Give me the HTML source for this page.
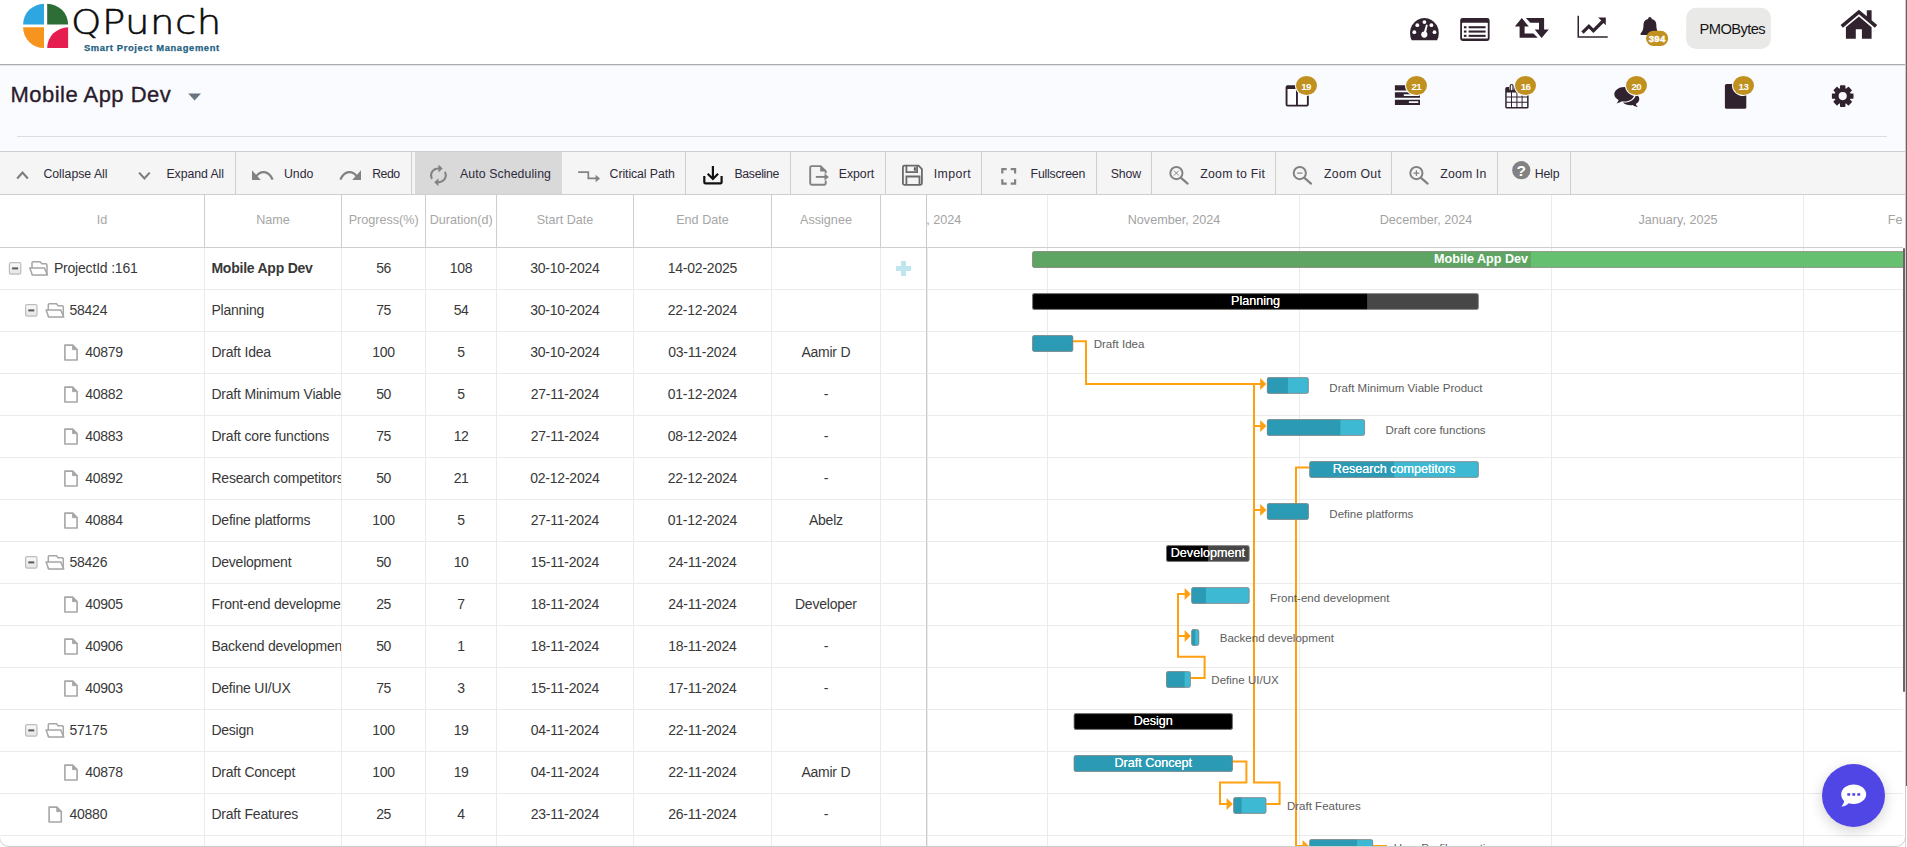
<!DOCTYPE html>
<html lang="en"><head><meta charset="utf-8"><title>QPunch - Mobile App Dev</title>
<style>
html,body{margin:0;padding:0;}
body{width:1907px;height:847px;overflow:hidden;position:relative;background:#fff;font-family:"Liberation Sans",sans-serif;}
.b{position:absolute;box-sizing:border-box;}
.t{position:absolute;white-space:nowrap;line-height:20px;height:20px;font-family:"Liberation Sans",sans-serif;}
svg{overflow:visible;}
</style></head><body>
<div class="b" style="left:0px;top:0px;width:1905px;height:64px;background:#fff;"></div>
<div class="b" style="left:0px;top:64px;width:1905px;height:1px;background:#ababad;"></div>
<div class="b" style="left:0px;top:65px;width:1905px;height:1px;background:#e6e6e9;"></div>
<div class="b" style="left:0px;top:66px;width:1905px;height:85px;background:#fafbfe;"></div>
<div class="b" style="left:17px;top:136px;width:1870px;height:1px;background:#dddee2;"></div>
<div class="b" style="left:0px;top:151px;width:1905px;height:44px;background:#f5f5f5;border-top:1px solid #cfcfcf;border-bottom:1px solid #cfcfcf;"></div>
<svg class="b" style="left:0px;top:0px;" width="240" height="64" viewBox="0 0 240 64">
<path d="M44 24.5 V3.8 A20.9 20.7 0 0 0 23.1 24.5 Z" fill="#2ea7e0"/>
<path d="M47.2 24.5 V3.8 A20.9 20.7 0 0 1 68.1 24.5 Z" fill="#2c6e36"/>
<path d="M44 27.3 V48 A20.9 20.7 0 0 1 23.1 27.3 Z" fill="#f7941d"/>
<path d="M68.1 48 H47.2 A20.9 20.7 0 0 1 68.1 27.3 Z" fill="#e51e4f"/>
</svg>
<span class="t" style="left:71.2px;top:3.1px;font-family:'DejaVu Sans Light','DejaVu Sans',sans-serif;font-weight:200;font-size:33.6px;line-height:40px;height:40px;color:#0b0b0b;letter-spacing:0.45px;transform:scaleX(1.15);transform-origin:0 0;-webkit-text-stroke:0.55px #0b0b0b;">QPunch</span>
<span class="t" style="left:83.90px;top:37.74px;font-size:9.4px;color:#1f6283;font-weight:700;letter-spacing:0.626px;-webkit-text-stroke:0.25px #1f6283;">Smart Project Management</span>
<svg class="b" style="left:0px;top:0px;" width="1907" height="64" viewBox="0 0 1907 64">
<g fill="#30232f">
<!-- tachometer -->
<path d="M1411.7 40.3 A14.4 15.16 0 1 1 1437.1 40.3 Z"/>
<g fill="#fff">
<circle cx="1414.3" cy="32.2" r="1.9"/><circle cx="1417.3" cy="25.2" r="1.9"/><circle cx="1424.4" cy="22.1" r="1.9"/><circle cx="1431.4" cy="25.2" r="1.9"/><circle cx="1434.5" cy="32.2" r="1.9"/>
<circle cx="1424.3" cy="34.6" r="3.1"/>
<path d="M1423.2 34.2 L1426.1 24.6 L1427.7 25.0 L1425.6 34.8 Z"/>
</g>
<!-- list-alt -->
<rect x="1460.2" y="18" width="29.4" height="22.9" rx="2.4"/>
<rect x="1462" y="22.7" width="25.8" height="15.8" rx="0.6" fill="#fff"/>
<rect x="1463.9" y="26.2" width="2.6" height="2.1"/><rect x="1468.6" y="26.2" width="17" height="2.1"/>
<rect x="1463.9" y="30.5" width="2.6" height="2.1"/><rect x="1468.6" y="30.5" width="17" height="2.1"/>
<rect x="1463.9" y="34.8" width="2.6" height="2.1"/><rect x="1468.6" y="34.8" width="17" height="2.1"/>
<!-- retweet -->
<path d="M1521.8 18 L1528.8 26.4 H1524.6 V33.4 H1533.4 L1537.8 37.8 H1519.6 V26.4 H1514.8 Z"/>
<path d="M1541.6 38 L1534.7 29.6 H1539 V22.7 H1530.3 L1525.9 18 H1544.1 V29.6 H1548.8 Z"/>
<!-- line chart -->
<path d="M1577.5 15.7 H1579 V36.2 H1607.7 V37.8 H1577.5 Z"/>
<path d="M1598.2 17.6 H1605.8 V25.2 L1603.5 22.9 L1593.4 33 L1588.9 28.5 L1583.6 33.8 L1581.3 31.5 L1588.9 23.9 L1593.4 28.4 L1601.2 20.6 Z"/>
<!-- bell -->
<path transform="translate(1649.9,0) scale(1.09,1) translate(-1649.2,0)" d="M1649.2 16.9 a1.6 1.6 0 0 1 1.6 1.6 v0.5 a5.9 5.9 0 0 1 4.3 5.7 c0 5 1.2 7.2 2.6 8.6 v1.6 h-17 v-1.6 c1.4 -1.4 2.6 -3.6 2.6 -8.6 a5.9 5.9 0 0 1 4.3 -5.7 v-0.5 a1.6 1.6 0 0 1 1.6 -1.6 z"/>
<!-- home -->
<path d="M1858.9 9.7 L1866.8 16.3 V10.2 H1871.6 V20.3 L1877.2 25 L1874.9 27.7 L1858.9 14.3 L1842.9 27.7 L1840.6 25 Z"/>
<path d="M1858.9 16.6 L1871.6 27.2 V38.8 H1861.9 V29.3 H1855.8 V38.8 H1845.9 V27.2 Z"/>
</g>
<!-- badge 394 -->
<rect x="1646" y="30.8" width="22.2" height="15.1" rx="7.5" fill="#c1911f"/>
<text x="1657.2" y="41.8" font-family="Liberation Sans,sans-serif" font-weight="700" font-size="9.5" letter-spacing="0.35" fill="#fff" stroke="#fff" stroke-width="0.35" text-anchor="middle">394</text>
<!-- user button -->
<rect x="1686.2" y="7.8" width="84.7" height="41.1" rx="10" fill="#e9e9e8"/>
</svg>
<span class="t" style="left:1699.60px;top:18.61px;font-size:14.7px;color:#151515;letter-spacing:-0.581px;">PMOBytes</span>
<span class="t" style="left:10.40px;top:84.68px;font-size:22px;color:#2a1b2d;letter-spacing:0.484px;-webkit-text-stroke:0.35px #2a1b2d;">Mobile App Dev</span>
<svg class="b" style="left:0px;top:64px;" width="1907" height="88" viewBox="0 0 1907 88">
<path d="M188.2 29.4 H201 L194.6 36.4 Z" fill="#6c757d"/>
<g fill="#30232f">
<!-- columns icon -->
<rect x="1286.5" y="22" width="21.5" height="20" fill="#fff"/>
<path fill-rule="evenodd" d="M1287.6 21.2 H1306.8 A2 2 0 0 1 1308.8 23.2 V40.6 A2 2 0 0 1 1306.8 42.6 H1287.6 A2 2 0 0 1 1285.6 40.6 V23.2 A2 2 0 0 1 1287.6 21.2 Z M1287.5 25 V40.7 H1296 V25 Z M1297.9 25 V40.7 H1306.9 V25 Z"/>
<!-- tasks icon -->
<path fill-rule="evenodd" d="M1394.900 21.200 H1420 V26.600 H1394.900 Z M1394.900 28.300 H1420 V33.800 H1394.900 Z M1403.800 30.200 V31.900 H1419.200 V30.200 Z M1394.900 35.800 H1420 V40.900 H1394.900 Z M1408.900 37.300 V39.100 H1418.300 V37.300 Z"/>
<!-- calendar icon -->
<path fill-rule="evenodd" d="M1506.900 23 H1526.900 A1.700 1.700 0 0 1 1528.600 24.700 V42.900 A1.700 1.700 0 0 1 1526.900 44.600 H1506.900 A1.700 1.700 0 0 1 1505.200 42.900 V24.700 A1.700 1.700 0 0 1 1506.900 23 Z M1506.7 28.6 V32.5 H1511.0 V28.6 Z M1512.0 28.6 V32.5 H1516.4 V28.6 Z M1517.4 28.6 V32.5 H1521.6 V28.6 Z M1522.6 28.6 V32.5 H1527.1 V28.6 Z M1506.7 33.5 V37.7 H1511.0 V33.5 Z M1512.0 33.5 V37.7 H1516.4 V33.5 Z M1517.4 33.5 V37.7 H1521.6 V33.5 Z M1522.6 33.5 V37.7 H1527.1 V33.5 Z M1506.7 38.7 V43.1 H1511.0 V38.7 Z M1512.0 38.7 V43.1 H1516.4 V38.7 Z M1517.4 38.7 V43.1 H1521.6 V38.7 Z M1522.6 38.7 V43.1 H1527.1 V38.7 Z"/>
<rect x="1509.100" y="19.500" width="4.800" height="7.400" rx="2.300" fill="#fafbfe"/>
<path fill-rule="evenodd" d="M1511.6 20 a2 2 0 0 1 2 2 v3.4 a2 2 0 0 1 -4 0 v-3.4 a2 2 0 0 1 2 -2 z m0 1.1 a0.8 0.8 0 0 0 -0.8 0.8 v3.5 a0.8 0.8 0 0 0 1.6 0 v-3.5 a0.8 0.8 0 0 0 -0.8 -0.8 z"/>
<!-- comments icon -->
<path d="M1624.3 23 c5.5 0 10 3.3 10 7.3 s-4.500 7.300 -10 7.300 c-0.900 0 -1.700 -0.100 -2.500 -0.250 c-1.400 1 -3.200 1.900 -5.500 2.100 c1.200 -1 2 -2.200 2.300 -3.500 c-2.600 -1.300 -4.300 -3.400 -4.300 -5.700 c0 -4 4.500 -7.300 10 -7.300 z"/>
<path transform="translate(-0.5,-1.1)" d="M1636.500 31 c2 1.200 3.300 3 3.300 5 c0 2.100 -1.400 3.900 -3.500 5.100 c0.300 1.100 1 2.100 2 3 c-2.100 -0.200 -3.800 -1 -5.100 -1.900 c-0.800 0.150 -1.600 0.250 -2.400 0.250 c-3 0 -5.600 -1.100 -7.300 -2.800 c0.500 0 0.700 0.050 1 0.050 c6.300 0 11.600 -3.700 12 -8.700 z"/>
<!-- file icon -->
<rect x="1724.900" y="19.900" width="21.400" height="24.900" rx="1.600"/>
<!-- gear -->
<g transform="translate(1842.7,32.1)">
<circle r="8.100"/>
<g id="gt"><rect x="-2.700" y="-10.800" width="5.400" height="21.600" rx="0.700"/></g>
<rect x="-2.700" y="-10.800" width="5.400" height="21.600" rx="0.700" transform="rotate(45)"/>
<rect x="-2.700" y="-10.800" width="5.400" height="21.600" rx="0.700" transform="rotate(90)"/>
<rect x="-2.700" y="-10.800" width="5.400" height="21.600" rx="0.700" transform="rotate(135)"/>
<circle r="4.050" fill="#fafbfe"/>
</g>
</g>
</svg>
<div class="b" style="left:1295.8px;top:75.9px;width:21px;height:19.4px;border-radius:50%;background:#c1911f;box-shadow:0 0 0 1px #fafbfe;"></div>
<span class="t" style="left:1301.20px;top:76.74px;font-size:9.7px;color:#fff;font-weight:700;letter-spacing:-0.567px;">19</span>
<div class="b" style="left:1406.1px;top:75.9px;width:21px;height:19.4px;border-radius:50%;background:#c1911f;box-shadow:0 0 0 1px #fafbfe;"></div>
<span class="t" style="left:1411.50px;top:76.74px;font-size:9.7px;color:#fff;font-weight:700;letter-spacing:-0.567px;">21</span>
<div class="b" style="left:1515.3px;top:75.9px;width:21px;height:19.4px;border-radius:50%;background:#c1911f;box-shadow:0 0 0 1px #fafbfe;"></div>
<span class="t" style="left:1520.70px;top:76.74px;font-size:9.7px;color:#fff;font-weight:700;letter-spacing:-0.567px;">16</span>
<div class="b" style="left:1626.1px;top:75.9px;width:21px;height:19.4px;border-radius:50%;background:#c1911f;box-shadow:0 0 0 1px #fafbfe;"></div>
<span class="t" style="left:1631.50px;top:76.74px;font-size:9.7px;color:#fff;font-weight:700;letter-spacing:-0.567px;">20</span>
<div class="b" style="left:1733.2px;top:75.9px;width:21px;height:19.4px;border-radius:50%;background:#c1911f;box-shadow:0 0 0 1px #fafbfe;"></div>
<span class="t" style="left:1738.60px;top:76.74px;font-size:9.7px;color:#fff;font-weight:700;letter-spacing:-0.567px;">13</span>
<div class="b" style="left:415px;top:152px;width:147px;height:42px;background:#d9d9d9;"></div>
<div class="b" style="left:235px;top:152px;width:1px;height:42px;background:#cfcfcf;"></div>
<div class="b" style="left:411px;top:152px;width:1px;height:42px;background:#cfcfcf;"></div>
<div class="b" style="left:685px;top:152px;width:1px;height:42px;background:#cfcfcf;"></div>
<div class="b" style="left:790px;top:152px;width:1px;height:42px;background:#cfcfcf;"></div>
<div class="b" style="left:885px;top:152px;width:1px;height:42px;background:#cfcfcf;"></div>
<div class="b" style="left:981px;top:152px;width:1px;height:42px;background:#cfcfcf;"></div>
<div class="b" style="left:1096px;top:152px;width:1px;height:42px;background:#cfcfcf;"></div>
<div class="b" style="left:1151px;top:152px;width:1px;height:42px;background:#cfcfcf;"></div>
<div class="b" style="left:1275px;top:152px;width:1px;height:42px;background:#cfcfcf;"></div>
<div class="b" style="left:1391px;top:152px;width:1px;height:42px;background:#cfcfcf;"></div>
<div class="b" style="left:1497px;top:152px;width:1px;height:42px;background:#cfcfcf;"></div>
<div class="b" style="left:1570px;top:152px;width:1px;height:42px;background:#cfcfcf;"></div>
<span class="t" style="left:43.40px;top:163.54px;font-size:12.3px;color:#2f2a3a;letter-spacing:-0.006px;">Collapse All</span>
<span class="t" style="left:166.40px;top:163.54px;font-size:12.3px;color:#2f2a3a;letter-spacing:-0.057px;">Expand All</span>
<span class="t" style="left:283.90px;top:163.54px;font-size:12.3px;color:#2f2a3a;letter-spacing:0.034px;">Undo</span>
<span class="t" style="left:372.20px;top:163.54px;font-size:12.3px;color:#2f2a3a;letter-spacing:-0.466px;">Redo</span>
<span class="t" style="left:459.90px;top:163.54px;font-size:12.3px;color:#2f2a3a;letter-spacing:0.107px;">Auto Scheduling</span>
<span class="t" style="left:609.60px;top:163.54px;font-size:12.3px;color:#2f2a3a;letter-spacing:-0.083px;">Critical Path</span>
<span class="t" style="left:734.50px;top:163.54px;font-size:12.3px;color:#2f2a3a;letter-spacing:-0.339px;">Baseline</span>
<span class="t" style="left:838.80px;top:163.54px;font-size:12.3px;color:#2f2a3a;letter-spacing:-0.049px;">Export</span>
<span class="t" style="left:933.70px;top:163.54px;font-size:12.3px;color:#2f2a3a;letter-spacing:0.446px;">Import</span>
<span class="t" style="left:1030.60px;top:163.54px;font-size:12.3px;color:#2f2a3a;letter-spacing:-0.229px;">Fullscreen</span>
<span class="t" style="left:1110.70px;top:163.54px;font-size:12.3px;color:#2f2a3a;letter-spacing:-0.104px;">Show</span>
<span class="t" style="left:1200.30px;top:163.54px;font-size:12.3px;color:#2f2a3a;letter-spacing:0.232px;">Zoom to Fit</span>
<span class="t" style="left:1324.00px;top:163.54px;font-size:12.3px;color:#2f2a3a;letter-spacing:0.318px;">Zoom Out</span>
<span class="t" style="left:1440.30px;top:163.54px;font-size:12.3px;color:#2f2a3a;letter-spacing:0.143px;">Zoom In</span>
<span class="t" style="left:1534.70px;top:163.54px;font-size:12.3px;color:#2f2a3a;letter-spacing:-0.159px;">Help</span>
<svg class="b" style="left:0px;top:152px;" width="1907" height="43" viewBox="0 0 1907 43">
<g fill="none" stroke="#7c7c7c" stroke-width="2.1">
<path d="M17.2 26.5 L22.5 20.6 L27.8 26.5"/>
<path d="M139.100 20.600 L144.400 26.500 L149.700 20.600"/>
</g>
<g fill="#828282">
<!-- undo -->
<path d="M252 18.300 V28 H260.800 Z"/>
<path d="M256.200 24.400 C260.500 18.300 268.500 18.300 272.600 27.600" fill="none" stroke="#828282" stroke-width="2.300"/>
<!-- redo -->
<path d="M361 18.300 V28 H352.200 Z"/>
<path d="M356.800 24.400 C352.500 18.300 344.500 18.300 340.400 27.600" fill="none" stroke="#828282" stroke-width="2.300"/>
<!-- autorenew -->
<g transform="translate(425.85,11.6) scale(1.05,0.98)">
<path d="M12 6v3l4-4-4-4v3c-4.420 0-8 3.580-8 8 0 1.570.460 3.030 1.240 4.260L6.700 14.800c-.450-.830-.700-1.790-.700-2.800 0-3.310 2.690-6 6-6zm6.760 1.740L17.300 9.200c.440.840.700 1.790.700 2.800 0 3.310-2.690 6-6 6v-3l-4 4 4 4v-3c4.420 0 8-3.580 8-8 0-1.570-.460-3.030-1.240-4.260z"/>
</g>
<!-- critical path -->
<path d="M578.200 20.100 H588.300 V26.400 H596 " fill="none" stroke="#828282" stroke-width="1.700"/>
<path d="M595.600 22.700 V30.200 L600 26.400 Z"/>
</g>
<!-- baseline (save_alt) -->
<g fill="none" stroke="#111" stroke-width="2.200">
<path d="M704.300 23.900 V30.200 A1.200 1.200 0 0 0 705.500 31.400 H720.400 A1.200 1.200 0 0 0 721.600 30.200 V23.900"/>
<path d="M712.900 14.100 V26.200 M707.700 21.800 L712.900 27 L718.100 21.800"/>
</g>
<!-- export -->
<g fill="none" stroke="#828282" stroke-width="1.900">
<path d="M825.700 21.600 V19.200 L820.600 14.100 H811.600 A1.400 1.400 0 0 0 810.200 15.500 V31.300 A1.400 1.400 0 0 0 811.600 32.700 H824.300 A1.400 1.400 0 0 0 825.700 31.300 V28.400"/>
<path d="M815.800 24.900 H825"/>
</g>
<path d="M820.200 13.800 V19.400 H825.900 Z" fill="#828282"/>
<path d="M824.500 21.400 V28.400 L828.900 24.900 Z" fill="#828282"/>
<!-- import (floppy) -->
<g fill="none" stroke="#6a6a6a" stroke-width="1.800">
<path d="M904.400 13.700 H918.600 L921.900 17 V31.300 A1.500 1.500 0 0 1 920.400 32.800 H904.400 A1.500 1.500 0 0 1 902.900 31.300 V15.200 A1.500 1.500 0 0 1 904.400 13.700 Z"/>
<path d="M906.400 13.700 V20.100 H917.100 V13.700"/>
<path d="M906.400 32.800 V24.500 H919.500 V32.800"/>
</g>
<rect x="913.900" y="15.300" width="1.900" height="3.400" fill="#555"/>
<!-- fullscreen -->
<g fill="none" stroke="#828282" stroke-width="2.200">
<path d="M1002.300 21.600 V17.200 H1006.700 M1010.700 17.200 H1015.100 V21.600 M1015.100 27.300 V31.700 H1010.700 M1006.700 31.700 H1002.300 V27.300"/>
</g>
<g fill="none" stroke="#828282" stroke-width="2"><circle cx="1176.4" cy="21.1" r="6.1"/><path d="M1181.0 25.9 L1187.6000000000001 31.6" stroke-width="2.2" stroke-linecap="round"/></g><g stroke="#828282" stroke-width="1" fill="none"><path d="M1174 18.700 L1178.800 23.500 M1178.800 18.700 L1174 23.500"/></g>
<g fill="none" stroke="#828282" stroke-width="2"><circle cx="1299.8" cy="21.1" r="6.1"/><path d="M1304.3999999999999 25.9 L1311.0 31.6" stroke-width="2.2" stroke-linecap="round"/></g><g stroke="#828282" stroke-width="1" fill="none"><path d="M1297.100 21.100 H1302.500" stroke-width="1.200"/></g>
<g fill="none" stroke="#828282" stroke-width="2"><circle cx="1416.4" cy="21.1" r="6.1"/><path d="M1421.0 25.9 L1427.6000000000001 31.6" stroke-width="2.2" stroke-linecap="round"/></g><g stroke="#828282" stroke-width="1" fill="none"><path d="M1413.500 21.100 H1419.300 M1416.400 18.200 V24" stroke-width="1.200"/></g>
<circle cx="1521.300" cy="18.200" r="9.100" fill="#828282"/>
<text x="1521.300" y="23.600" font-family="Liberation Sans,sans-serif" font-weight="700" font-size="15.500" fill="#fff" text-anchor="middle">?</text>
</svg>
<div class="b" style="left:0px;top:247px;width:1903px;height:1px;background:#cecece;"></div>
<div class="b" style="left:204px;top:195px;width:1px;height:52px;background:#cecece;"></div>
<div class="b" style="left:204px;top:248px;width:1px;height:599px;background:#ebebeb;"></div>
<div class="b" style="left:341px;top:195px;width:1px;height:52px;background:#cecece;"></div>
<div class="b" style="left:341px;top:248px;width:1px;height:599px;background:#ebebeb;"></div>
<div class="b" style="left:425px;top:195px;width:1px;height:52px;background:#cecece;"></div>
<div class="b" style="left:425px;top:248px;width:1px;height:599px;background:#ebebeb;"></div>
<div class="b" style="left:496px;top:195px;width:1px;height:52px;background:#cecece;"></div>
<div class="b" style="left:496px;top:248px;width:1px;height:599px;background:#ebebeb;"></div>
<div class="b" style="left:633px;top:195px;width:1px;height:52px;background:#cecece;"></div>
<div class="b" style="left:633px;top:248px;width:1px;height:599px;background:#ebebeb;"></div>
<div class="b" style="left:771px;top:195px;width:1px;height:52px;background:#cecece;"></div>
<div class="b" style="left:771px;top:248px;width:1px;height:599px;background:#ebebeb;"></div>
<div class="b" style="left:880px;top:195px;width:1px;height:52px;background:#cecece;"></div>
<div class="b" style="left:880px;top:248px;width:1px;height:599px;background:#ebebeb;"></div>
<div class="b" style="left:926px;top:195px;width:1px;height:652px;background:#c9c9c9;"></div>
<div class="b" style="left:927px;top:248px;width:1px;height:599px;background:#ededed;"></div>
<span class="t" style="left:96.74px;top:210.03px;font-size:12.6px;color:#a6a6a6;">Id</span>
<span class="t" style="left:256.18px;top:210.03px;font-size:12.6px;color:#a6a6a6;">Name</span>
<span class="t" style="left:348.70px;top:210.03px;font-size:12.6px;color:#a6a6a6;">Progress(%)</span>
<span class="t" style="left:429.70px;top:210.03px;font-size:12.6px;color:#a6a6a6;">Duration(d)</span>
<span class="t" style="left:536.65px;top:210.03px;font-size:12.6px;color:#a6a6a6;">Start Date</span>
<span class="t" style="left:676.23px;top:210.03px;font-size:12.6px;color:#a6a6a6;">End Date</span>
<span class="t" style="left:800.08px;top:210.03px;font-size:12.6px;color:#a6a6a6;">Assignee</span>
<div class="b" style="left:0px;top:289px;width:926px;height:1px;background:#ebebeb;"></div>
<span class="t" style="left:53.90px;top:258.45px;font-size:14.0px;color:#383838;letter-spacing:-0.190px;">ProjectId :161</span>
<div class="b" style="left:205px;top:248px;width:136px;height:41px;overflow:hidden;">
<span class="t" style="left:6.40px;top:10.45px;font-size:14.0px;color:#383838;font-weight:700;letter-spacing:-0.230px;">Mobile App Dev</span>
</div>
<span class="t" style="left:376.15px;top:258.45px;font-size:14.0px;color:#383838;letter-spacing:-0.444px;">56</span>
<span class="t" style="left:449.84px;top:258.45px;font-size:14.0px;color:#383838;letter-spacing:-0.334px;">108</span>
<span class="t" style="left:530.22px;top:258.45px;font-size:14.0px;color:#383838;letter-spacing:-0.227px;">30-10-2024</span>
<span class="t" style="left:667.72px;top:258.45px;font-size:14.0px;color:#383838;letter-spacing:-0.227px;">14-02-2025</span>
<div class="b" style="left:0px;top:331px;width:926px;height:1px;background:#ebebeb;"></div>
<span class="t" style="left:69.60px;top:300.45px;font-size:14.0px;color:#383838;letter-spacing:-0.278px;">58424</span>
<div class="b" style="left:205px;top:290px;width:136px;height:41px;overflow:hidden;">
<span class="t" style="left:6.40px;top:10.45px;font-size:14.0px;color:#383838;letter-spacing:-0.222px;">Planning</span>
</div>
<span class="t" style="left:376.15px;top:300.45px;font-size:14.0px;color:#383838;letter-spacing:-0.444px;">75</span>
<span class="t" style="left:453.65px;top:300.45px;font-size:14.0px;color:#383838;letter-spacing:-0.444px;">54</span>
<span class="t" style="left:530.22px;top:300.45px;font-size:14.0px;color:#383838;letter-spacing:-0.227px;">30-10-2024</span>
<span class="t" style="left:667.72px;top:300.45px;font-size:14.0px;color:#383838;letter-spacing:-0.227px;">22-12-2024</span>
<div class="b" style="left:0px;top:373px;width:926px;height:1px;background:#ebebeb;"></div>
<span class="t" style="left:85.20px;top:342.45px;font-size:14.0px;color:#383838;letter-spacing:-0.278px;">40879</span>
<div class="b" style="left:205px;top:332px;width:136px;height:41px;overflow:hidden;">
<span class="t" style="left:6.40px;top:10.45px;font-size:14.0px;color:#383838;letter-spacing:-0.195px;">Draft Idea</span>
</div>
<span class="t" style="left:372.34px;top:342.45px;font-size:14.0px;color:#383838;letter-spacing:-0.334px;">100</span>
<span class="t" style="left:457.31px;top:342.45px;font-size:14.0px;color:#383838;">5</span>
<span class="t" style="left:530.22px;top:342.45px;font-size:14.0px;color:#383838;letter-spacing:-0.227px;">30-10-2024</span>
<span class="t" style="left:668.23px;top:342.45px;font-size:14.0px;color:#383838;letter-spacing:-0.224px;">03-11-2024</span>
<span class="t" style="left:801.45px;top:342.45px;font-size:14.0px;color:#383838;letter-spacing:-0.241px;">Aamir D</span>
<div class="b" style="left:0px;top:415px;width:926px;height:1px;background:#ebebeb;"></div>
<span class="t" style="left:85.20px;top:384.45px;font-size:14.0px;color:#383838;letter-spacing:-0.278px;">40882</span>
<div class="b" style="left:205px;top:374px;width:136px;height:41px;overflow:hidden;">
<span class="t" style="left:6.40px;top:10.45px;font-size:14.0px;color:#383838;letter-spacing:-0.197px;">Draft Minimum Viable Product</span>
</div>
<span class="t" style="left:376.15px;top:384.45px;font-size:14.0px;color:#383838;letter-spacing:-0.444px;">50</span>
<span class="t" style="left:457.31px;top:384.45px;font-size:14.0px;color:#383838;">5</span>
<span class="t" style="left:530.73px;top:384.45px;font-size:14.0px;color:#383838;letter-spacing:-0.224px;">27-11-2024</span>
<span class="t" style="left:667.72px;top:384.45px;font-size:14.0px;color:#383838;letter-spacing:-0.227px;">01-12-2024</span>
<span class="t" style="left:823.65px;top:384.45px;font-size:14.0px;color:#383838;">-</span>
<div class="b" style="left:0px;top:457px;width:926px;height:1px;background:#ebebeb;"></div>
<span class="t" style="left:85.20px;top:426.45px;font-size:14.0px;color:#383838;letter-spacing:-0.278px;">40883</span>
<div class="b" style="left:205px;top:416px;width:136px;height:41px;overflow:hidden;">
<span class="t" style="left:6.40px;top:10.45px;font-size:14.0px;color:#383838;letter-spacing:-0.183px;">Draft core functions</span>
</div>
<span class="t" style="left:376.15px;top:426.45px;font-size:14.0px;color:#383838;letter-spacing:-0.444px;">75</span>
<span class="t" style="left:453.65px;top:426.45px;font-size:14.0px;color:#383838;letter-spacing:-0.444px;">12</span>
<span class="t" style="left:530.73px;top:426.45px;font-size:14.0px;color:#383838;letter-spacing:-0.224px;">27-11-2024</span>
<span class="t" style="left:667.72px;top:426.45px;font-size:14.0px;color:#383838;letter-spacing:-0.227px;">08-12-2024</span>
<span class="t" style="left:823.65px;top:426.45px;font-size:14.0px;color:#383838;">-</span>
<div class="b" style="left:0px;top:499px;width:926px;height:1px;background:#ebebeb;"></div>
<span class="t" style="left:85.20px;top:468.45px;font-size:14.0px;color:#383838;letter-spacing:-0.278px;">40892</span>
<div class="b" style="left:205px;top:458px;width:136px;height:41px;overflow:hidden;">
<span class="t" style="left:6.40px;top:10.45px;font-size:14.0px;color:#383838;letter-spacing:-0.205px;">Research competitors</span>
</div>
<span class="t" style="left:376.15px;top:468.45px;font-size:14.0px;color:#383838;letter-spacing:-0.444px;">50</span>
<span class="t" style="left:453.65px;top:468.45px;font-size:14.0px;color:#383838;letter-spacing:-0.444px;">21</span>
<span class="t" style="left:530.22px;top:468.45px;font-size:14.0px;color:#383838;letter-spacing:-0.227px;">02-12-2024</span>
<span class="t" style="left:667.72px;top:468.45px;font-size:14.0px;color:#383838;letter-spacing:-0.227px;">22-12-2024</span>
<span class="t" style="left:823.65px;top:468.45px;font-size:14.0px;color:#383838;">-</span>
<div class="b" style="left:0px;top:541px;width:926px;height:1px;background:#ebebeb;"></div>
<span class="t" style="left:85.20px;top:510.45px;font-size:14.0px;color:#383838;letter-spacing:-0.278px;">40884</span>
<div class="b" style="left:205px;top:500px;width:136px;height:41px;overflow:hidden;">
<span class="t" style="left:6.40px;top:10.45px;font-size:14.0px;color:#383838;letter-spacing:-0.194px;">Define platforms</span>
</div>
<span class="t" style="left:372.34px;top:510.45px;font-size:14.0px;color:#383838;letter-spacing:-0.334px;">100</span>
<span class="t" style="left:457.31px;top:510.45px;font-size:14.0px;color:#383838;">5</span>
<span class="t" style="left:530.73px;top:510.45px;font-size:14.0px;color:#383838;letter-spacing:-0.224px;">27-11-2024</span>
<span class="t" style="left:667.72px;top:510.45px;font-size:14.0px;color:#383838;letter-spacing:-0.227px;">01-12-2024</span>
<span class="t" style="left:809.00px;top:510.45px;font-size:14.0px;color:#383838;letter-spacing:-0.250px;">Abelz</span>
<div class="b" style="left:0px;top:583px;width:926px;height:1px;background:#ebebeb;"></div>
<span class="t" style="left:69.60px;top:552.45px;font-size:14.0px;color:#383838;letter-spacing:-0.278px;">58426</span>
<div class="b" style="left:205px;top:542px;width:136px;height:41px;overflow:hidden;">
<span class="t" style="left:6.40px;top:10.45px;font-size:14.0px;color:#383838;letter-spacing:-0.236px;">Development</span>
</div>
<span class="t" style="left:376.15px;top:552.45px;font-size:14.0px;color:#383838;letter-spacing:-0.444px;">50</span>
<span class="t" style="left:453.65px;top:552.45px;font-size:14.0px;color:#383838;letter-spacing:-0.444px;">10</span>
<span class="t" style="left:530.73px;top:552.45px;font-size:14.0px;color:#383838;letter-spacing:-0.224px;">15-11-2024</span>
<span class="t" style="left:668.23px;top:552.45px;font-size:14.0px;color:#383838;letter-spacing:-0.224px;">24-11-2024</span>
<div class="b" style="left:0px;top:625px;width:926px;height:1px;background:#ebebeb;"></div>
<span class="t" style="left:85.20px;top:594.45px;font-size:14.0px;color:#383838;letter-spacing:-0.278px;">40905</span>
<div class="b" style="left:205px;top:584px;width:136px;height:41px;overflow:hidden;">
<span class="t" style="left:6.40px;top:10.45px;font-size:14.0px;color:#383838;letter-spacing:-0.207px;">Front-end development</span>
</div>
<span class="t" style="left:376.15px;top:594.45px;font-size:14.0px;color:#383838;letter-spacing:-0.444px;">25</span>
<span class="t" style="left:457.31px;top:594.45px;font-size:14.0px;color:#383838;">7</span>
<span class="t" style="left:530.73px;top:594.45px;font-size:14.0px;color:#383838;letter-spacing:-0.224px;">18-11-2024</span>
<span class="t" style="left:668.23px;top:594.45px;font-size:14.0px;color:#383838;letter-spacing:-0.224px;">24-11-2024</span>
<span class="t" style="left:794.99px;top:594.45px;font-size:14.0px;color:#383838;letter-spacing:-0.228px;">Developer</span>
<div class="b" style="left:0px;top:667px;width:926px;height:1px;background:#ebebeb;"></div>
<span class="t" style="left:85.20px;top:636.45px;font-size:14.0px;color:#383838;letter-spacing:-0.278px;">40906</span>
<div class="b" style="left:205px;top:626px;width:136px;height:41px;overflow:hidden;">
<span class="t" style="left:6.40px;top:10.45px;font-size:14.0px;color:#383838;letter-spacing:-0.220px;">Backend development</span>
</div>
<span class="t" style="left:376.15px;top:636.45px;font-size:14.0px;color:#383838;letter-spacing:-0.444px;">50</span>
<span class="t" style="left:457.31px;top:636.45px;font-size:14.0px;color:#383838;">1</span>
<span class="t" style="left:530.73px;top:636.45px;font-size:14.0px;color:#383838;letter-spacing:-0.224px;">18-11-2024</span>
<span class="t" style="left:668.23px;top:636.45px;font-size:14.0px;color:#383838;letter-spacing:-0.224px;">18-11-2024</span>
<span class="t" style="left:823.65px;top:636.45px;font-size:14.0px;color:#383838;">-</span>
<div class="b" style="left:0px;top:709px;width:926px;height:1px;background:#ebebeb;"></div>
<span class="t" style="left:85.20px;top:678.45px;font-size:14.0px;color:#383838;letter-spacing:-0.278px;">40903</span>
<div class="b" style="left:205px;top:668px;width:136px;height:41px;overflow:hidden;">
<span class="t" style="left:6.40px;top:10.45px;font-size:14.0px;color:#383838;letter-spacing:-0.212px;">Define UI/UX</span>
</div>
<span class="t" style="left:376.15px;top:678.45px;font-size:14.0px;color:#383838;letter-spacing:-0.444px;">75</span>
<span class="t" style="left:457.31px;top:678.45px;font-size:14.0px;color:#383838;">3</span>
<span class="t" style="left:530.73px;top:678.45px;font-size:14.0px;color:#383838;letter-spacing:-0.224px;">15-11-2024</span>
<span class="t" style="left:668.23px;top:678.45px;font-size:14.0px;color:#383838;letter-spacing:-0.224px;">17-11-2024</span>
<span class="t" style="left:823.65px;top:678.45px;font-size:14.0px;color:#383838;">-</span>
<div class="b" style="left:0px;top:751px;width:926px;height:1px;background:#ebebeb;"></div>
<span class="t" style="left:69.60px;top:720.45px;font-size:14.0px;color:#383838;letter-spacing:-0.278px;">57175</span>
<div class="b" style="left:205px;top:710px;width:136px;height:41px;overflow:hidden;">
<span class="t" style="left:6.40px;top:10.45px;font-size:14.0px;color:#383838;letter-spacing:-0.249px;">Design</span>
</div>
<span class="t" style="left:372.34px;top:720.45px;font-size:14.0px;color:#383838;letter-spacing:-0.334px;">100</span>
<span class="t" style="left:453.65px;top:720.45px;font-size:14.0px;color:#383838;letter-spacing:-0.444px;">19</span>
<span class="t" style="left:530.73px;top:720.45px;font-size:14.0px;color:#383838;letter-spacing:-0.224px;">04-11-2024</span>
<span class="t" style="left:668.23px;top:720.45px;font-size:14.0px;color:#383838;letter-spacing:-0.224px;">22-11-2024</span>
<div class="b" style="left:0px;top:793px;width:926px;height:1px;background:#ebebeb;"></div>
<span class="t" style="left:85.20px;top:762.45px;font-size:14.0px;color:#383838;letter-spacing:-0.278px;">40878</span>
<div class="b" style="left:205px;top:752px;width:136px;height:41px;overflow:hidden;">
<span class="t" style="left:6.40px;top:10.45px;font-size:14.0px;color:#383838;letter-spacing:-0.206px;">Draft Concept</span>
</div>
<span class="t" style="left:372.34px;top:762.45px;font-size:14.0px;color:#383838;letter-spacing:-0.334px;">100</span>
<span class="t" style="left:453.65px;top:762.45px;font-size:14.0px;color:#383838;letter-spacing:-0.444px;">19</span>
<span class="t" style="left:530.73px;top:762.45px;font-size:14.0px;color:#383838;letter-spacing:-0.224px;">04-11-2024</span>
<span class="t" style="left:668.23px;top:762.45px;font-size:14.0px;color:#383838;letter-spacing:-0.224px;">22-11-2024</span>
<span class="t" style="left:801.45px;top:762.45px;font-size:14.0px;color:#383838;letter-spacing:-0.241px;">Aamir D</span>
<div class="b" style="left:0px;top:835px;width:926px;height:1px;background:#ebebeb;"></div>
<span class="t" style="left:69.60px;top:804.45px;font-size:14.0px;color:#383838;letter-spacing:-0.278px;">40880</span>
<div class="b" style="left:205px;top:794px;width:136px;height:41px;overflow:hidden;">
<span class="t" style="left:6.40px;top:10.45px;font-size:14.0px;color:#383838;letter-spacing:-0.197px;">Draft Features</span>
</div>
<span class="t" style="left:376.15px;top:804.45px;font-size:14.0px;color:#383838;letter-spacing:-0.444px;">25</span>
<span class="t" style="left:457.31px;top:804.45px;font-size:14.0px;color:#383838;">4</span>
<span class="t" style="left:530.73px;top:804.45px;font-size:14.0px;color:#383838;letter-spacing:-0.224px;">23-11-2024</span>
<span class="t" style="left:668.23px;top:804.45px;font-size:14.0px;color:#383838;letter-spacing:-0.224px;">26-11-2024</span>
<span class="t" style="left:823.65px;top:804.45px;font-size:14.0px;color:#383838;">-</span>
<div class="b" style="left:0px;top:877px;width:926px;height:1px;background:#ebebeb;"></div>
<span class="t" style="left:69.60px;top:846.45px;font-size:14.0px;color:#383838;letter-spacing:-0.278px;">40881</span>
<div class="b" style="left:205px;top:836px;width:136px;height:41px;overflow:hidden;">
<span class="t" style="left:6.40px;top:10.45px;font-size:14.0px;color:#383838;letter-spacing:-0.181px;">User Profile creation</span>
</div>
<span class="t" style="left:376.15px;top:846.45px;font-size:14.0px;color:#383838;letter-spacing:-0.444px;">75</span>
<span class="t" style="left:457.31px;top:846.45px;font-size:14.0px;color:#383838;">8</span>
<span class="t" style="left:530.22px;top:846.45px;font-size:14.0px;color:#383838;letter-spacing:-0.227px;">02-12-2024</span>
<span class="t" style="left:667.72px;top:846.45px;font-size:14.0px;color:#383838;letter-spacing:-0.227px;">09-12-2024</span>
<span class="t" style="left:823.65px;top:846.45px;font-size:14.0px;color:#383838;">-</span>
<svg class="b" style="left:0px;top:0px;" width="930" height="847" viewBox="0 0 930 847"><defs><linearGradient id="tg" x1="0" y1="0" x2="0" y2="1"><stop offset="0" stop-color="#fafafa"/><stop offset="1" stop-color="#e4e4e4"/></linearGradient></defs><rect x="9.4" y="262.7" width="11.400" height="11.400" rx="1.600" fill="url(#tg)" stroke="#bcbcbc" stroke-width="1.200"/><path d="M12.1 268.4 H18.1" stroke="#5a5a5a" stroke-width="2"/><g fill="#fff" stroke="#a6a6a6" stroke-width="1.500" stroke-linejoin="round"><path d="M32.0 274.6 V262.8 A1.200 1.200 0 0 1 33.2 261.7 H40.2 L41.8 263.7 H45.8 A1.200 1.200 0 0 1 47.0 264.9 V274.6 Z"/><path d="M29.8 267.9 H44.4 L47.4 275.0 H32.4 Z"/></g><rect x="25.6" y="304.7" width="11.400" height="11.400" rx="1.600" fill="url(#tg)" stroke="#bcbcbc" stroke-width="1.200"/><path d="M28.3 310.4 H34.3" stroke="#5a5a5a" stroke-width="2"/><g fill="#fff" stroke="#a6a6a6" stroke-width="1.500" stroke-linejoin="round"><path d="M48.3 316.6 V304.8 A1.200 1.200 0 0 1 49.5 303.7 H56.5 L58.1 305.7 H62.1 A1.200 1.200 0 0 1 63.3 306.9 V316.6 Z"/><path d="M46.1 309.9 H60.7 L63.7 317.0 H48.7 Z"/></g><path d="M64.9 345.1 H72.7 L77.1 349.5 V360.0 H64.9 Z" fill="#fff" stroke="#a6a6a6" stroke-width="1.600" stroke-linejoin="round"/><path d="M72.5 345.1 V349.7 H77.1 Z" fill="#a6a6a6" stroke="#a6a6a6" stroke-width="0.800" stroke-linejoin="round"/><path d="M64.9 387.1 H72.7 L77.1 391.5 V402.0 H64.9 Z" fill="#fff" stroke="#a6a6a6" stroke-width="1.600" stroke-linejoin="round"/><path d="M72.5 387.1 V391.7 H77.1 Z" fill="#a6a6a6" stroke="#a6a6a6" stroke-width="0.800" stroke-linejoin="round"/><path d="M64.9 429.1 H72.7 L77.1 433.5 V444.0 H64.9 Z" fill="#fff" stroke="#a6a6a6" stroke-width="1.600" stroke-linejoin="round"/><path d="M72.5 429.1 V433.7 H77.1 Z" fill="#a6a6a6" stroke="#a6a6a6" stroke-width="0.800" stroke-linejoin="round"/><path d="M64.9 471.1 H72.7 L77.1 475.5 V486.0 H64.9 Z" fill="#fff" stroke="#a6a6a6" stroke-width="1.600" stroke-linejoin="round"/><path d="M72.5 471.1 V475.7 H77.1 Z" fill="#a6a6a6" stroke="#a6a6a6" stroke-width="0.800" stroke-linejoin="round"/><path d="M64.9 513.1 H72.7 L77.1 517.5 V528.0 H64.9 Z" fill="#fff" stroke="#a6a6a6" stroke-width="1.600" stroke-linejoin="round"/><path d="M72.5 513.1 V517.7 H77.1 Z" fill="#a6a6a6" stroke="#a6a6a6" stroke-width="0.800" stroke-linejoin="round"/><rect x="25.6" y="556.7" width="11.400" height="11.400" rx="1.600" fill="url(#tg)" stroke="#bcbcbc" stroke-width="1.200"/><path d="M28.3 562.4 H34.3" stroke="#5a5a5a" stroke-width="2"/><g fill="#fff" stroke="#a6a6a6" stroke-width="1.500" stroke-linejoin="round"><path d="M48.3 568.6 V556.8 A1.200 1.200 0 0 1 49.5 555.7 H56.5 L58.1 557.7 H62.1 A1.200 1.200 0 0 1 63.3 558.9 V568.6 Z"/><path d="M46.1 561.9 H60.7 L63.7 569.0 H48.7 Z"/></g><path d="M64.9 597.1 H72.7 L77.1 601.5 V612.0 H64.9 Z" fill="#fff" stroke="#a6a6a6" stroke-width="1.600" stroke-linejoin="round"/><path d="M72.5 597.1 V601.7 H77.1 Z" fill="#a6a6a6" stroke="#a6a6a6" stroke-width="0.800" stroke-linejoin="round"/><path d="M64.9 639.1 H72.7 L77.1 643.5 V654.0 H64.9 Z" fill="#fff" stroke="#a6a6a6" stroke-width="1.600" stroke-linejoin="round"/><path d="M72.5 639.1 V643.7 H77.1 Z" fill="#a6a6a6" stroke="#a6a6a6" stroke-width="0.800" stroke-linejoin="round"/><path d="M64.9 681.1 H72.7 L77.1 685.5 V696.0 H64.9 Z" fill="#fff" stroke="#a6a6a6" stroke-width="1.600" stroke-linejoin="round"/><path d="M72.5 681.1 V685.7 H77.1 Z" fill="#a6a6a6" stroke="#a6a6a6" stroke-width="0.800" stroke-linejoin="round"/><rect x="25.6" y="724.7" width="11.400" height="11.400" rx="1.600" fill="url(#tg)" stroke="#bcbcbc" stroke-width="1.200"/><path d="M28.3 730.4 H34.3" stroke="#5a5a5a" stroke-width="2"/><g fill="#fff" stroke="#a6a6a6" stroke-width="1.500" stroke-linejoin="round"><path d="M48.3 736.6 V724.8 A1.200 1.200 0 0 1 49.5 723.7 H56.5 L58.1 725.7 H62.1 A1.200 1.200 0 0 1 63.3 726.9 V736.6 Z"/><path d="M46.1 729.9 H60.7 L63.7 737.0 H48.7 Z"/></g><path d="M64.9 765.1 H72.7 L77.1 769.5 V780.0 H64.9 Z" fill="#fff" stroke="#a6a6a6" stroke-width="1.600" stroke-linejoin="round"/><path d="M72.5 765.1 V769.7 H77.1 Z" fill="#a6a6a6" stroke="#a6a6a6" stroke-width="0.800" stroke-linejoin="round"/><path d="M49.1 807.1 H56.9 L61.3 811.5 V822.0 H49.1 Z" fill="#fff" stroke="#a6a6a6" stroke-width="1.600" stroke-linejoin="round"/><path d="M56.7 807.1 V811.7 H61.3 Z" fill="#a6a6a6" stroke="#a6a6a6" stroke-width="0.800" stroke-linejoin="round"/><path d="M49.1 849.1 H56.9 L61.3 853.5 V864.0 H49.1 Z" fill="#fff" stroke="#a6a6a6" stroke-width="1.600" stroke-linejoin="round"/><path d="M56.7 849.1 V853.7 H61.3 Z" fill="#a6a6a6" stroke="#a6a6a6" stroke-width="0.800" stroke-linejoin="round"/></svg>
<div class="b" style="left:896.2px;top:266.4px;width:14.6px;height:4.4px;background:#bfe6ef;"></div>
<div class="b" style="left:901.3px;top:261.3px;width:4.4px;height:14.6px;background:#bfe6ef;"></div>
<div class="b" style="left:1047px;top:195px;width:1px;height:52px;background:#ebebeb;"></div>
<div class="b" style="left:1047px;top:248px;width:1px;height:599px;background:#ebebeb;"></div>
<div class="b" style="left:1299px;top:195px;width:1px;height:52px;background:#ebebeb;"></div>
<div class="b" style="left:1299px;top:248px;width:1px;height:599px;background:#ebebeb;"></div>
<div class="b" style="left:1551px;top:195px;width:1px;height:52px;background:#ebebeb;"></div>
<div class="b" style="left:1551px;top:248px;width:1px;height:599px;background:#ebebeb;"></div>
<div class="b" style="left:1803px;top:195px;width:1px;height:52px;background:#ebebeb;"></div>
<div class="b" style="left:1803px;top:248px;width:1px;height:599px;background:#ebebeb;"></div>
<div class="b" style="left:928px;top:289px;width:975px;height:1px;background:#ebebeb;"></div>
<div class="b" style="left:928px;top:331px;width:975px;height:1px;background:#ebebeb;"></div>
<div class="b" style="left:928px;top:373px;width:975px;height:1px;background:#ebebeb;"></div>
<div class="b" style="left:928px;top:415px;width:975px;height:1px;background:#ebebeb;"></div>
<div class="b" style="left:928px;top:457px;width:975px;height:1px;background:#ebebeb;"></div>
<div class="b" style="left:928px;top:499px;width:975px;height:1px;background:#ebebeb;"></div>
<div class="b" style="left:928px;top:541px;width:975px;height:1px;background:#ebebeb;"></div>
<div class="b" style="left:928px;top:583px;width:975px;height:1px;background:#ebebeb;"></div>
<div class="b" style="left:928px;top:625px;width:975px;height:1px;background:#ebebeb;"></div>
<div class="b" style="left:928px;top:667px;width:975px;height:1px;background:#ebebeb;"></div>
<div class="b" style="left:928px;top:709px;width:975px;height:1px;background:#ebebeb;"></div>
<div class="b" style="left:928px;top:751px;width:975px;height:1px;background:#ebebeb;"></div>
<div class="b" style="left:928px;top:793px;width:975px;height:1px;background:#ebebeb;"></div>
<div class="b" style="left:928px;top:835px;width:975px;height:1px;background:#ebebeb;"></div>
<div class="b" style="left:928px;top:877px;width:975px;height:1px;background:#ebebeb;"></div>
<div class="b" style="left:927px;top:195px;width:976px;height:52px;overflow:hidden;">
<span class="t" style="left:-44.86px;top:14.63px;font-size:12.6px;color:#a3a3a3;">October, 2024</span>
<span class="t" style="left:200.76px;top:14.63px;font-size:12.6px;color:#a3a3a3;">November, 2024</span>
<span class="t" style="left:452.76px;top:14.63px;font-size:12.6px;color:#a3a3a3;">December, 2024</span>
<span class="t" style="left:711.53px;top:14.63px;font-size:12.6px;color:#a3a3a3;">January, 2025</span>
<span class="t" style="left:960.73px;top:14.63px;font-size:12.6px;color:#a3a3a3;">February, 2025</span>
</div>
<svg class="b" style="left:928px;top:248px;overflow:hidden;" width="975" height="599" viewBox="928 248 975 599"><path d="M1073.1 341.3 L1086.0 341.3 L1086.0 384.0 L1261.0 384.0" fill="none" stroke="#ffa011" stroke-width="2"/><path d="M1266.3 804.0 L1279.6 804.0 L1279.6 782.6 L1254.0 782.6 L1254.0 384.0" fill="none" stroke="#ffa011" stroke-width="2"/><path d="M1254.0 384.0 L1261.0 384.0" fill="none" stroke="#ffa011" stroke-width="2"/><path d="M1266.4 384.0 L1260.2 378.0 V390.0 Z" fill="#ffa011"/><path d="M1254.0 426.0 L1261.0 426.0" fill="none" stroke="#ffa011" stroke-width="2"/><path d="M1266.4 426.0 L1260.2 420.0 V432.0 Z" fill="#ffa011"/><path d="M1254.0 510.0 L1261.0 510.0" fill="none" stroke="#ffa011" stroke-width="2"/><path d="M1266.4 510.0 L1260.2 504.0 V516.0 Z" fill="#ffa011"/><path d="M1309.4 467.6 L1296.0 467.6 L1296.0 846.0 L1303.0 846.0" fill="none" stroke="#ffa011" stroke-width="2"/><path d="M1308.8 846.0 L1302.6 840.0 V852.0 Z" fill="#ffa011"/><path d="M1190.7 678.0 L1204.6 678.0 L1204.6 656.8 L1178.0 656.8 L1178.0 594.0 L1186.0 594.0" fill="none" stroke="#ffa011" stroke-width="2"/><path d="M1190.8 594.0 L1184.6 588.0 V600.0 Z" fill="#ffa011"/><path d="M1178.0 636.0 L1186.0 636.0" fill="none" stroke="#ffa011" stroke-width="2"/><path d="M1190.8 636.0 L1184.6 630.0 V642.0 Z" fill="#ffa011"/><path d="M1232.7 761.6 L1246.4 761.6 L1246.4 782.6 L1220.0 782.6 L1220.0 804.0 L1227.0 804.0" fill="none" stroke="#ffa011" stroke-width="2"/><path d="M1232.8 804.0 L1226.6 798.0 V810.0 Z" fill="#ffa011"/><path d="M1373.1 846.0 L1386.0 846.0 L1386.0 860.0" fill="none" stroke="#ffa011" stroke-width="2"/><clipPath id="c0"><rect x="1032.3" y="251.3" width="897.6" height="16.4" rx="2"/></clipPath><g clip-path="url(#c0)"><rect x="1032.3" y="251.3" width="897.6" height="16.4" fill="#65c16f"/><rect x="1032.3" y="251.3" width="498.6" height="16.4" fill="#5ea563"/></g><rect x="1032.6" y="251.6" width="897.0" height="15.799999999999999" rx="2" fill="none" stroke="#8b8480" stroke-width="0.800"/><clipPath id="c1"><rect x="1032.3" y="293.3" width="446.4" height="16.4" rx="2"/></clipPath><g clip-path="url(#c1)"><rect x="1032.3" y="293.3" width="446.4" height="16.4" fill="#474747"/><rect x="1032.3" y="293.3" width="334.8" height="16.4" fill="#000000"/></g><rect x="1032.6" y="293.6" width="445.8" height="15.799999999999999" rx="2" fill="none" stroke="#8b8480" stroke-width="0.800"/><clipPath id="c2"><rect x="1032.3" y="335.3" width="40.8" height="16.4" rx="2"/></clipPath><g clip-path="url(#c2)"><rect x="1032.3" y="335.3" width="40.8" height="16.4" fill="#3db9d3"/><rect x="1032.3" y="335.3" width="40.8" height="16.4" fill="#2b9bb5"/></g><rect x="1032.6" y="335.6" width="40.2" height="15.799999999999999" rx="2" fill="none" stroke="#8b8480" stroke-width="0.800"/><clipPath id="c3"><rect x="1267.0" y="377.3" width="41.7" height="16.4" rx="2"/></clipPath><g clip-path="url(#c3)"><rect x="1267.0" y="377.3" width="41.7" height="16.4" fill="#3db9d3"/><rect x="1267.0" y="377.3" width="20.9" height="16.4" fill="#2b9bb5"/></g><rect x="1267.3" y="377.6" width="41.1" height="15.799999999999999" rx="2" fill="none" stroke="#8b8480" stroke-width="0.800"/><clipPath id="c4"><rect x="1267.0" y="419.3" width="97.9" height="16.4" rx="2"/></clipPath><g clip-path="url(#c4)"><rect x="1267.0" y="419.3" width="97.9" height="16.4" fill="#3db9d3"/><rect x="1267.0" y="419.3" width="73.4" height="16.4" fill="#2b9bb5"/></g><rect x="1267.3" y="419.6" width="97.3" height="15.799999999999999" rx="2" fill="none" stroke="#8b8480" stroke-width="0.800"/><clipPath id="c5"><rect x="1309.4" y="461.3" width="169.3" height="16.4" rx="2"/></clipPath><g clip-path="url(#c5)"><rect x="1309.4" y="461.3" width="169.3" height="16.4" fill="#3db9d3"/><rect x="1309.4" y="461.3" width="84.7" height="16.4" fill="#2b9bb5"/></g><rect x="1309.7" y="461.6" width="168.7" height="15.799999999999999" rx="2" fill="none" stroke="#8b8480" stroke-width="0.800"/><clipPath id="c6"><rect x="1267.0" y="503.3" width="41.7" height="16.4" rx="2"/></clipPath><g clip-path="url(#c6)"><rect x="1267.0" y="503.3" width="41.7" height="16.4" fill="#3db9d3"/><rect x="1267.0" y="503.3" width="41.7" height="16.4" fill="#2b9bb5"/></g><rect x="1267.3" y="503.6" width="41.1" height="15.799999999999999" rx="2" fill="none" stroke="#8b8480" stroke-width="0.800"/><clipPath id="c7"><rect x="1166.2" y="545.3" width="83.3" height="16.4" rx="2"/></clipPath><g clip-path="url(#c7)"><rect x="1166.2" y="545.3" width="83.3" height="16.4" fill="#474747"/><rect x="1166.2" y="545.3" width="41.7" height="16.4" fill="#000000"/></g><rect x="1166.5" y="545.6" width="82.7" height="15.799999999999999" rx="2" fill="none" stroke="#8b8480" stroke-width="0.800"/><clipPath id="c8"><rect x="1191.4" y="587.3" width="58.1" height="16.4" rx="2"/></clipPath><g clip-path="url(#c8)"><rect x="1191.4" y="587.3" width="58.1" height="16.4" fill="#3db9d3"/><rect x="1191.4" y="587.3" width="14.5" height="16.4" fill="#2b9bb5"/></g><rect x="1191.7" y="587.6" width="57.5" height="15.799999999999999" rx="2" fill="none" stroke="#8b8480" stroke-width="0.800"/><clipPath id="c9"><rect x="1191.4" y="629.3" width="7.7" height="16.4" rx="2"/></clipPath><g clip-path="url(#c9)"><rect x="1191.4" y="629.3" width="7.7" height="16.4" fill="#3db9d3"/><rect x="1191.4" y="629.3" width="3.9" height="16.4" fill="#2b9bb5"/></g><rect x="1191.7" y="629.6" width="7.1" height="15.799999999999999" rx="2" fill="none" stroke="#8b8480" stroke-width="0.800"/><clipPath id="c10"><rect x="1166.2" y="671.3" width="24.5" height="16.4" rx="2"/></clipPath><g clip-path="url(#c10)"><rect x="1166.2" y="671.3" width="24.5" height="16.4" fill="#3db9d3"/><rect x="1166.2" y="671.3" width="18.4" height="16.4" fill="#2b9bb5"/></g><rect x="1166.5" y="671.6" width="23.9" height="15.799999999999999" rx="2" fill="none" stroke="#8b8480" stroke-width="0.800"/><clipPath id="c11"><rect x="1073.8" y="713.3" width="158.9" height="16.4" rx="2"/></clipPath><g clip-path="url(#c11)"><rect x="1073.8" y="713.3" width="158.9" height="16.4" fill="#474747"/><rect x="1073.8" y="713.3" width="158.9" height="16.4" fill="#000000"/></g><rect x="1074.1" y="713.6" width="158.3" height="15.799999999999999" rx="2" fill="none" stroke="#8b8480" stroke-width="0.800"/><clipPath id="c12"><rect x="1073.8" y="755.3" width="158.9" height="16.4" rx="2"/></clipPath><g clip-path="url(#c12)"><rect x="1073.8" y="755.3" width="158.9" height="16.4" fill="#3db9d3"/><rect x="1073.8" y="755.3" width="158.9" height="16.4" fill="#2b9bb5"/></g><rect x="1074.1" y="755.6" width="158.3" height="15.799999999999999" rx="2" fill="none" stroke="#8b8480" stroke-width="0.800"/><clipPath id="c13"><rect x="1233.4" y="797.3" width="32.9" height="16.4" rx="2"/></clipPath><g clip-path="url(#c13)"><rect x="1233.4" y="797.3" width="32.9" height="16.4" fill="#3db9d3"/><rect x="1233.4" y="797.3" width="8.2" height="16.4" fill="#2b9bb5"/></g><rect x="1233.7" y="797.6" width="32.3" height="15.799999999999999" rx="2" fill="none" stroke="#8b8480" stroke-width="0.800"/><clipPath id="c14"><rect x="1309.4" y="839.3" width="63.6" height="16.4" rx="2"/></clipPath><g clip-path="url(#c14)"><rect x="1309.4" y="839.3" width="63.6" height="16.4" fill="#3db9d3"/><rect x="1309.4" y="839.3" width="47.7" height="16.4" fill="#2b9bb5"/></g><rect x="1309.7" y="839.6" width="63.0" height="15.799999999999999" rx="2" fill="none" stroke="#8b8480" stroke-width="0.800"/></svg>
<div class="b" style="left:928px;top:248px;width:975px;height:599px;overflow:hidden;">
<span class="t" style="left:506.09px;top:0.93px;font-size:12.6px;color:#fff;font-weight:700;">Mobile App Dev</span>
<span class="t" style="left:303.03px;top:42.93px;font-size:12.6px;color:#fff;text-shadow:0 0 0.4px #fff;">Planning</span>
<span class="t" style="left:165.70px;top:85.50px;font-size:11.55px;color:#5d5d5d;">Draft Idea</span>
<span class="t" style="left:401.33px;top:129.50px;font-size:11.55px;color:#5d5d5d;">Draft Minimum Viable Product</span>
<span class="t" style="left:457.53px;top:171.50px;font-size:11.55px;color:#5d5d5d;">Draft core functions</span>
<span class="t" style="left:404.82px;top:210.93px;font-size:12.6px;color:#fff;text-shadow:0 0 0.4px #fff;">Research competitors</span>
<span class="t" style="left:401.33px;top:255.50px;font-size:11.55px;color:#5d5d5d;">Define platforms</span>
<span class="t" style="left:242.74px;top:294.93px;font-size:12.6px;color:#fff;text-shadow:0 0 0.4px #fff;">Development</span>
<span class="t" style="left:342.10px;top:339.50px;font-size:11.55px;color:#5d5d5d;">Front-end development</span>
<span class="t" style="left:291.70px;top:379.50px;font-size:11.55px;color:#5d5d5d;">Backend development</span>
<span class="t" style="left:283.30px;top:421.50px;font-size:11.55px;color:#5d5d5d;">Define UI/UX</span>
<span class="t" style="left:205.63px;top:462.93px;font-size:12.6px;color:#fff;text-shadow:0 0 0.4px #fff;">Design</span>
<span class="t" style="left:186.38px;top:504.93px;font-size:12.6px;color:#fff;text-shadow:0 0 0.4px #fff;">Draft Concept</span>
<span class="t" style="left:358.90px;top:547.50px;font-size:11.55px;color:#5d5d5d;">Draft Features</span>
<span class="t" style="left:465.66px;top:589.50px;font-size:11.55px;color:#5d5d5d;">User Profile creation</span>
</div>
<div class="b" style="left:1903px;top:195px;width:2px;height:652px;background:#fff;"></div>
<div class="b" style="left:1903px;top:248px;width:2px;height:444px;background:#6f6567;border-radius:1px;"></div>
<div class="b" style="left:1905px;top:0px;width:2px;height:847px;background:#fff;"></div>
<div class="b" style="left:1905px;top:0px;width:2px;height:786px;background:linear-gradient(to right,#9d9596 0,#9d9596 40%,#6a5f61 40%);"></div>
<div class="b" style="left:1905px;top:786px;width:1px;height:61px;background:#d8d8d8;"></div>
<div class="b" style="left:1822px;top:763.5px;width:63px;height:63px;border-radius:50%;background:#4f46e5;box-shadow:0 4px 14px rgba(0,0,0,0.180);"></div>
<svg class="b" style="left:1822px;top:763.5px;" width="63" height="63" viewBox="0 0 63 63">
<path d="M31.700 20.500 c6.900 0 12.500 4.300 12.500 9.700 s-5.600 9.700 -12.500 9.700 c-1.700 0 -3.300 -0.260 -4.800 -0.730 c-1.600 1.500 -4.200 3.100 -7.600 3.400 c1.700 -1.700 2.600 -3.700 2.800 -5.600 c-1.800 -1.800 -2.900 -4.200 -2.900 -6.800 c0 -5.400 5.600 -9.700 12.500 -9.700 z" fill="#fff"/>
<rect x="25.300" y="29.200" width="2.900" height="2.500" fill="#4f46e5"/><rect x="30.300" y="29.200" width="2.900" height="2.500" fill="#4f46e5"/><rect x="35.300" y="29.200" width="2.900" height="2.500" fill="#4f46e5"/>
</svg>
<div class="b" style="left:-1px;top:-20px;width:1907px;height:867px;border:1px solid #cdcdcd;border-radius:0 0 10px 10px;pointer-events:none;"></div>
</body></html>
